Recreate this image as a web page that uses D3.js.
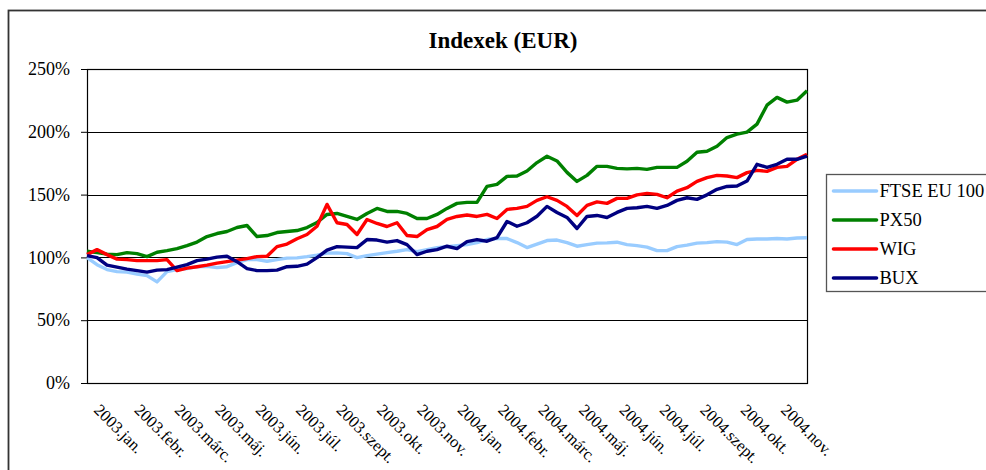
<!DOCTYPE html>
<html>
<head>
<meta charset="utf-8">
<script src="https://cdn.jsdelivr.net/npm/d3@7"></script>
<style>
  body { margin: 0; background: #fff; }
  svg text { font-family: "Times New Roman", "Liberation Serif", "DejaVu Serif", serif !important; fill: #000; }
</style>
</head>
<body>
<svg id="chart" width="986" height="470"></svg>
<script>
// month labels on the category axis (one every 27 trading days)
const monthLabels = ['2003.jan.', '2003.febr.', '2003.márc.', '2003.máj.', '2003.jún.', '2003.júl.',
  '2003.szept.', '2003.okt.', '2003.nov.', '2004.jan.', '2004.febr.', '2004.márc.', '2004.máj.',
  '2004.jún.', '2004.júl.', '2004.szept.', '2004.okt.', '2004.nov.']
const tradingDays = 482
const labelEvery = 27

const yTicks = [0, 50, 100, 150, 200, 250]
const seriesNames = ['FTSE EU 100', 'PX50', 'WIG', 'BUX']
const seriesColors = ['#99ccff', '#008000', '#ff0000', '#000080']

// index values (%), evenly spaced over the period
const ftse = [99.8, 94.2, 90.3, 88.7, 88.3, 86.7, 85.5, 80.5, 88.7, 90.3, 91.1, 92.6, 92.9, 91.9, 92.6,
  95.8, 98.2, 98.2, 96.9, 98.2, 99.4, 99.6, 100.6, 101.8, 103.4, 103.6, 103.0, 99.8, 101.4, 102.6,
  103.8, 104.9, 106.2, 104.6, 106.2, 107.8, 108.6, 109.4, 110.2, 111.8, 114.2, 115.0, 115.0, 111.8,
  107.8, 110.6, 113.4, 113.8, 111.8, 108.9, 110.2, 111.4, 111.6, 112.1, 110.2, 109.4, 108.2, 105.4,
  105.4, 108.6, 109.8, 111.4, 111.8, 112.6, 112.2, 110.2, 114.2, 114.6, 114.6, 115.0, 114.6, 115.4, 115.6]
const px50 = [104.9, 103.8, 102.6, 102.2, 103.8, 103.0, 100.6, 104.1, 105.4, 107.0, 109.4, 112.2, 116.6,
  119.0, 120.6, 123.8, 125.4, 116.6, 117.4, 119.8, 120.6, 121.4, 123.8, 127.8, 134.2, 135.0, 132.6,
  130.2, 135.0, 139.0, 136.6, 136.6, 135.0, 131.0, 131.0, 134.2, 139.0, 143.0, 143.8, 143.8, 156.5,
  158.1, 164.5, 164.8, 168.8, 175.5, 180.5, 176.8, 167.7, 160.5, 165.3, 172.5, 172.5, 170.9, 170.5,
  170.9, 170.1, 171.7, 171.7, 171.7, 176.5, 183.7, 184.5, 188.5, 195.4, 198.1, 199.7, 206.1, 221.2,
  227.4, 223.6, 225.2, 232.7]
const wig = [102.2, 106.2, 102.2, 98.6, 98.2, 97.4, 97.4, 97.4, 98.2, 89.5, 91.5, 92.6, 93.8, 95.4, 96.6,
  97.8, 99.0, 100.6, 100.9, 108.6, 110.6, 114.8, 118.2, 124.8, 142.2, 127.6, 126.2, 118.2, 130.2,
  127.0, 124.6, 127.6, 117.4, 116.6, 122.2, 124.6, 130.2, 132.6, 133.8, 132.6, 134.2, 131.0, 138.2,
  139.0, 140.6, 145.4, 148.3, 145.4, 140.6, 133.4, 141.4, 144.2, 143.0, 147.0, 147.0, 149.8, 151.0,
  150.2, 147.5, 152.8, 155.5, 160.5, 163.5, 165.3, 164.8, 163.5, 167.5, 169.3, 168.5, 171.7, 172.5,
  178.1, 182.1]
const bux = [101.4, 99.8, 93.8, 92.2, 90.7, 89.5, 88.3, 89.9, 90.3, 92.2, 94.2, 97.4, 98.6, 100.2, 100.9,
  96.6, 91.1, 89.5, 89.5, 89.9, 92.6, 92.9, 94.6, 99.8, 105.8, 108.6, 108.2, 107.8, 114.2, 113.8,
  112.2, 113.4, 110.2, 102.2, 104.9, 106.2, 108.9, 107.0, 112.6, 114.2, 112.9, 115.8, 128.6, 124.8,
  127.6, 132.8, 140.6, 135.8, 131.8, 123.0, 132.6, 133.4, 131.8, 135.8, 139.0, 139.5, 140.6, 139.0,
  141.4, 145.4, 147.5, 146.2, 149.8, 154.2, 156.5, 156.8, 160.8, 174.1, 171.7, 174.1, 178.1, 178.1, 180.7]

const allSeries = [ftse, px50, wig, bux]

const svg = d3.select('#chart')
const margin = { top: 69, left: 87 }
const width = 720
const height = 314

// chart area border (runs off the right and bottom of the picture)
svg.append('rect')
  .attr('x', 8.5).attr('y', 10.5)
  .attr('width', 1100).attr('height', 600)
  .attr('fill', '#fff')
  .attr('stroke', '#333').attr('stroke-width', 1.8)

svg.append('text')
  .attr('x', 503).attr('y', 48)
  .attr('text-anchor', 'middle')
  .attr('font-size', '23px')
  .attr('font-weight', 'bold')
  .text('Indexek (EUR)')

const g = svg.append('g').attr('transform', `translate(${margin.left}, ${margin.top})`)

const x = d3.scaleLinear().domain([0, tradingDays - 1]).range([0, width])
const y = d3.scaleLinear().domain([0, 250]).range([height, 0])

// gridlines
g.selectAll('.grid')
  .data(yTicks.filter(d => d > 0 && d < 250))
  .enter().append('line')
  .attr('x1', 0).attr('x2', width)
  .attr('y1', d => Math.round(y(d)) + 0.5).attr('y2', d => Math.round(y(d)) + 0.5)
  .attr('stroke', '#000').attr('stroke-width', 1)

// plot border
g.append('rect')
  .attr('x', 0.5).attr('y', 0.5)
  .attr('width', width).attr('height', height)
  .attr('fill', 'none').attr('stroke', '#000').attr('stroke-width', 1.2)

// y axis
const yAxis = g.append('g')
  .call(d3.axisLeft(y).tickValues(yTicks).tickSize(6).tickFormat(d => d + '%'))
yAxis.attr('font-family', null)
yAxis.select('.domain').remove()
yAxis.selectAll('line').attr('stroke', '#000')
yAxis.selectAll('text')
  .attr('x', -17)
  .attr('font-size', '18px')

// x labels, rotated
g.selectAll('.xlabel')
  .data(monthLabels)
  .enter().append('text')
  .attr('class', 'xlabel')
  .attr('font-size', '16.5px')
  .attr('transform', (d, i) => `translate(${x(i * labelEvery) + 6}, ${342}) rotate(45)`)
  .text(d => d)

// series lines
const line = d3.line()
  .x((d, i, arr) => x(i * (tradingDays - 1) / (arr.length - 1)))
  .y(d => y(d))

allSeries.forEach((s, k) => {
  g.append('path')
    .datum(s)
    .attr('fill', 'none')
    .attr('stroke', seriesColors[k])
    .attr('stroke-width', 3.4)
    .attr('stroke-linejoin', 'round')
    .attr('d', line)
})

// legend
const lg = svg.append('g').attr('transform', 'translate(826.5, 174.5)')
lg.append('rect')
  .attr('width', 200).attr('height', 117)
  .attr('fill', '#fff')
  .attr('stroke', '#555').attr('stroke-width', 1.3)
seriesNames.forEach((name, k) => {
  const ly = 16.5 + k * 29
  lg.append('line')
    .attr('x1', 7).attr('x2', 50)
    .attr('y1', ly).attr('y2', ly)
    .attr('stroke', seriesColors[k]).attr('stroke-width', 3.6)
    .attr('stroke-linecap', 'round')
  lg.append('text')
    .attr('x', 53).attr('y', ly + 6)
    .attr('font-size', '18.5px')
    .text(name)
})
</script>
</body>
</html>
